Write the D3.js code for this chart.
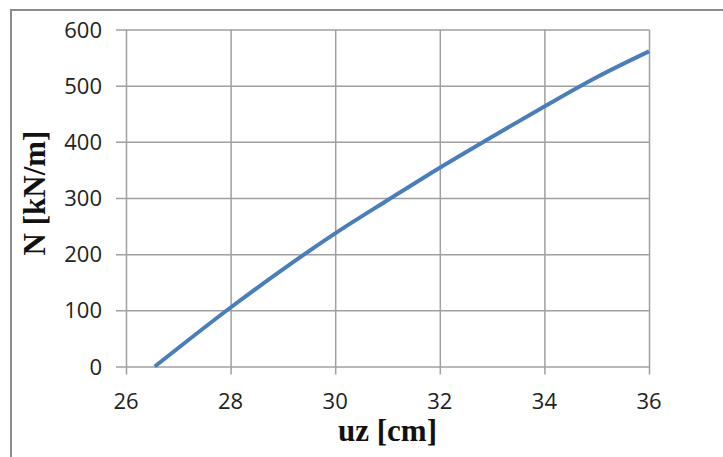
<!DOCTYPE html>
<html>
<head>
<meta charset="utf-8">
<script src="https://cdn.jsdelivr.net/npm/d3@7"></script>
<style>
  body { margin: 0; background: #fff; }
  .tick-label { font-family: "Open Sans", sans-serif; font-size: 22px; fill: #222; }
  .title { font-family: "Liberation Serif", "Times New Roman", serif; font-weight: bold; font-size: 31px; fill: #111; }
</style>
</head>
<body>
<svg id="chart" width="723" height="457"></svg>
<script>
// values
let uz = [26.55, 27, 28, 29, 30, 31, 32, 33, 34, 35, 36];
let N = [0, 33, 105, 173, 237, 296, 354, 409, 463, 515, 561];
let xTicks = [26, 28, 30, 32, 34, 36];
let yTicks = [0, 100, 200, 300, 400, 500, 600];

let svg = d3.select("#chart");
let margin = {left: 126, top: 29.5, right: 74, bottom: 90.5};
let width = +svg.attr("width") - margin.left - margin.right;
let height = +svg.attr("height") - margin.top - margin.bottom;

// outer frame (cut off at right and bottom in the original)
svg.append("rect")
    .attr("x", 11).attr("y", 10)
    .attr("width", 740).attr("height", 480)
    .attr("fill", "none")
    .attr("stroke", "#8c8c8c")
    .attr("stroke-width", 2);

let x = d3.scaleLinear().domain([26, 36]).range([0, width]);
let y = d3.scaleLinear().domain([0, 600]).range([height, 0]);

let g = svg.append("g").attr("transform", `translate(${margin.left}, ${margin.top})`);

// horizontal grid + outward ticks
g.append("g")
    .attr("transform", "translate(-10, 0)")
    .call(d3.axisRight(y).tickValues(yTicks).tickSize(width + 10).tickFormat(""))
    .call(a => a.select(".domain").remove())
    .call(a => a.selectAll("line").attr("stroke", "#a0a0a0").attr("stroke-width", 1.5));

// vertical grid + outward ticks
g.append("g")
    .call(d3.axisBottom(x).tickValues(xTicks).tickSize(height + 8).tickFormat(""))
    .call(a => a.select(".domain").remove())
    .call(a => a.selectAll("line").attr("stroke", "#a0a0a0").attr("stroke-width", 1.5));

// tick labels
g.append("g")
    .selectAll("text")
    .data(yTicks)
    .enter()
    .append("text")
    .attr("class", "tick-label")
    .attr("text-anchor", "end")
    .attr("x", -24)
    .attr("y", d => y(d) + 8)
    .text(d => d);

g.append("g")
    .selectAll("text")
    .data(xTicks)
    .enter()
    .append("text")
    .attr("class", "tick-label")
    .attr("text-anchor", "middle")
    .attr("x", d => x(d))
    .attr("y", height + 42)
    .text(d => d);

// curve
let line = d3.line()
    .x((d, i) => x(uz[i]))
    .y((d) => y(d))
    .curve(d3.curveMonotoneX);

g.append("path")
    .datum(N)
    .attr("fill", "none")
    .attr("stroke", "#4a7ebb")
    .attr("stroke-width", 4)
    .attr("d", line);

// axis titles
svg.append("text")
    .attr("class", "title")
    .attr("text-anchor", "middle")
    .attr("x", margin.left + width / 2)
    .attr("y", 441)
    .text("uz [cm]");

svg.append("text")
    .attr("class", "title")
    .attr("text-anchor", "middle")
    .attr("transform", `translate(45, 193) rotate(-90)`)
    .text("N [kN/m]");
</script>
</body>
</html>
